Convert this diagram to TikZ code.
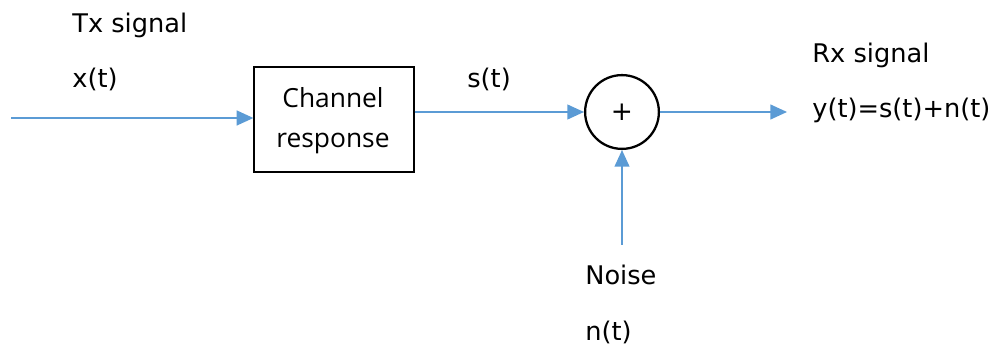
\documentclass[tikz,border=0pt]{standalone}
\usepackage{fontspec}
\setmainfont{DejaVu Sans}
\newfontfamily\boxfont{Open Sans}
\usetikzlibrary{arrows.meta}
\definecolor{sigblue}{HTML}{5B9BD5}
\tikzset{
  sig/.style={draw=sigblue, line width=0.85pt, -{Triangle[length=9.5pt,width=8.5pt]}},
  lbl/.style={anchor=base west, inner sep=0pt, font=\fontsize{14.6}{17}\selectfont},
  boxlbl/.style={anchor=base, inner sep=0pt, font=\boxfont\fontsize{15}{18}\selectfont},
  chanbox/.style={draw=black, line width=0.8pt, minimum width=91pt, minimum height=59.8pt, inner sep=0pt},
  sumnode/.style={draw=black, circle, line width=1.3pt, minimum size=42pt, inner sep=0pt, font=\fontsize{15}{18}\selectfont}
}
\begin{document}
\begin{tikzpicture}[x=0.02cm, y=-0.02cm]
\useasboundingbox (0,0) rectangle (1000,347);
\node[chanbox] (ch) at (334,119.5) {};
\node[boxlbl] (chtext1) at (333,108) {Channel};
\node[boxlbl] (chtext2) at (333,148) {response};
\node[sumnode] (sum) at (622,112) {+};
\coordinate (in) at (11,118);
\coordinate (out) at (787,112);
\coordinate (nz) at (622,245);
\draw[sig] (in) -- (in -| ch.west);
\draw[sig] (ch.east |- sum) -- (sum.west);
\draw[sig] (sum.east) -- (out);
\draw[sig] (nz) -- (sum.south);
\node[lbl] (tx) at (72,33) {Tx signal};
\node[lbl] (xt) at (72,88) {x(t)};
\node[lbl] (st) at (467,88) {s(t)};
\node[lbl] (rx) at (812,63) {Rx signal};
\node[lbl] (yt) at (812,118) {y(t)=s(t)+n(t)};
\node[lbl] (noise) at (585,285) {Noise};
\node[lbl] (nt) at (585,340) {n(t)};
\end{tikzpicture}
\end{document}
